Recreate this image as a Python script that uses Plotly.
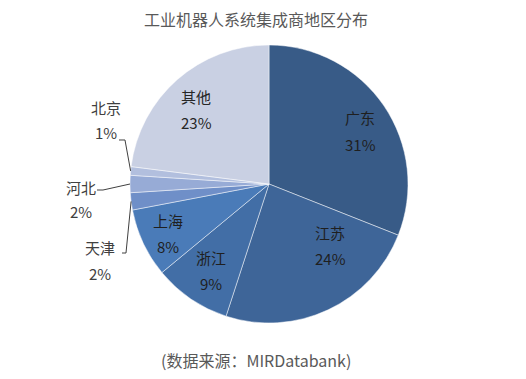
import math
import plotly.graph_objects as go

# ---- data ----
regions = ["广东", "江苏", "浙江", "上海", "天津", "河北", "北京", "其他"]
shares = [31, 24, 9, 8, 2, 2, 1, 23]
colors = ["#385b87", "#3e6598", "#426ea6", "#4a7bb8", "#6f8fc8", "#97abd6", "#b2bfde", "#c9d0e3"]
title_text = "工业机器人系统集成商地区分布"
source_text = "(数据来源：MIRDatabank)"

W, H = 526, 379
CX, CY, R = 269, 184, 139  # pie centre / radius in pixels


def px(x):
    return x / W


def py(y):
    return 1 - y / H


fig = go.Figure(go.Pie(
    labels=regions,
    values=shares,
    sort=False,
    direction="clockwise",
    rotation=0,
    marker=dict(colors=colors, line=dict(color="rgba(255,255,255,0.6)", width=0.8)),
    textinfo="none",
    hoverinfo="label+percent",
    domain=dict(x=[px(CX - R), px(CX + R)], y=[py(CY + R), py(CY - R)]),
    showlegend=False,
))

font_cjk = "Noto Sans CJK SC, Microsoft YaHei, sans-serif"

inside_pos = {
    "广东": (360, 118, "#1f1f1f"),
    "江苏": (330, 232, "#1f1f1f"),
    "浙江": (211, 257, "#1f1f1f"),
    "上海": (168, 220, "#1f1f1f"),
    "其他": (196, 96, "#262626"),
}
outside_pos = {
    "北京": (106, 107, 133),
    "河北": (81, 187, 211),
    "天津": (100, 247, 273),
}
leader_start = {
    "北京": [(119, 140), (125, 140)],
    "河北": [(97, 190), (103, 190)],
    "天津": [(122, 253), (126, 253)],
}


def txt(x, y, s, size, color):
    return dict(x=px(x), y=py(y), text=s, showarrow=False, xanchor="center", yanchor="middle",
                font=dict(size=size, color=color, family=font_cjk))


annotations = []
cum = 0
total = sum(shares)
for name, val in zip(regions, shares):
    mid = (cum + val / 2) / total * 2 * math.pi
    cum += val
    pct = f"{round(val / total * 100)}%"
    if name in inside_pos:
        x, y, c = inside_pos[name]
        annotations.append(txt(x, y, name, 15, c))
        annotations.append(txt(x, y + 26, pct, 15, c))
    else:
        x, y1, y2 = outside_pos[name]
        annotations.append(txt(x, y1, name, 15, "#404040"))
        annotations.append(txt(x, y2, pct, 15, "#404040"))
        ex = CX + R * math.sin(mid)
        ey = CY - R * math.cos(mid)
        pts = leader_start[name] + [(ex, ey)]
        path = "M " + " L ".join(f"{px(a):.5f},{py(b):.5f}" for a, b in pts)
        fig.add_shape(type="path", path=path, xref="paper", yref="paper",
                      line=dict(color="#404040", width=1))

annotations.append(txt(256, 19, title_text, 16, "#595959"))
annotations.append(txt(256, 360, source_text, 16, "#595959"))

fig.update_layout(
    width=W, height=H,
    margin=dict(l=0, r=0, t=0, b=0),
    paper_bgcolor="white",
    plot_bgcolor="white",
    annotations=annotations,
)

fig.write_html("out.html", config={"displayModeBar": False},
               post_script="document.body.style.margin='0';")
